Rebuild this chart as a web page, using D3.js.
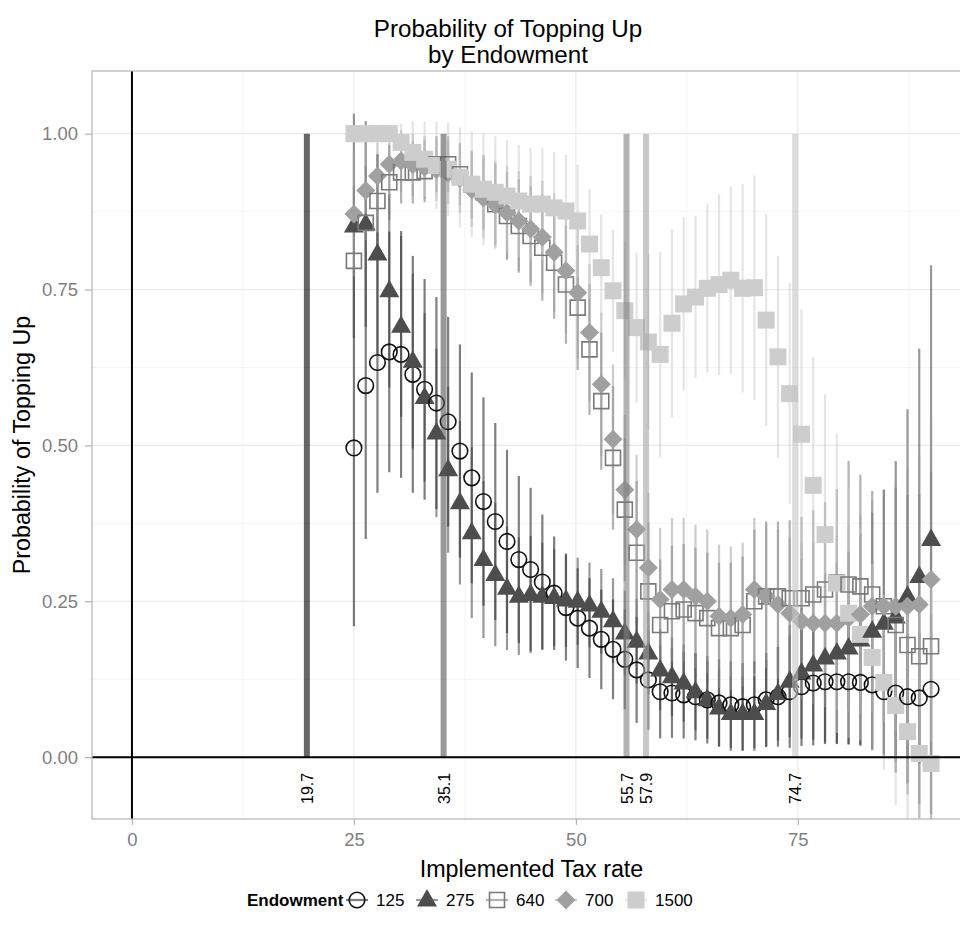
<!DOCTYPE html>
<html><head><meta charset="utf-8">
<script src="https://cdn.jsdelivr.net/npm/d3@7/dist/d3.min.js"></script>
<style>
body{margin:0;background:#fff;}
text{font-family:"Liberation Sans",Arial,Helvetica,sans-serif;}
</style>
</head><body>
<svg id="chart" width="960" height="941"></svg>
<script>
// ---------------- data ----------------
const taxRate = [25.00,26.33,27.65,28.98,30.31,31.63,32.96,34.29,35.61,36.94,38.27,39.59,40.92,42.24,43.57,44.90,46.22,47.55,48.88,50.20,51.53,52.86,54.18,55.51,56.84,58.16,59.49,60.82,62.14,63.47,64.80,66.12,67.45,68.78,70.10,71.43,72.76,74.08,75.41,76.73,78.06,79.39,80.71,82.04,83.37,84.69,86.02,87.35,88.67,90.00];
const endowments = ["125","275","640","700","1500"];

const p125 = [0.496,0.596,0.633,0.650,0.646,0.614,0.590,0.568,0.538,0.491,0.448,0.410,0.378,0.346,0.317,0.301,0.281,0.263,0.240,0.223,0.207,0.189,0.173,0.157,0.140,0.124,0.105,0.103,0.100,0.097,0.092,0.087,0.084,0.081,0.084,0.092,0.097,0.105,0.113,0.119,0.121,0.121,0.121,0.120,0.116,0.105,0.103,0.097,0.095,0.109];
const lo125 = [0.210,0.350,0.424,0.457,0.448,0.424,0.413,0.398,0.370,0.320,0.279,0.243,0.220,0.199,0.183,0.170,0.173,0.172,0.155,0.143,0.127,0.109,0.093,0.077,0.055,0.044,0.030,0.031,0.030,0.027,0.022,0.017,0.014,0.011,0.014,0.017,0.017,0.015,0.018,0.019,0.021,0.021,0.021,0.020,0.012,0.005,0.003,-0.003,-0.010,-0.011];
const hi125 = [0.782,0.842,0.842,0.843,0.844,0.804,0.767,0.738,0.706,0.662,0.617,0.577,0.536,0.493,0.451,0.432,0.389,0.354,0.325,0.303,0.287,0.269,0.253,0.237,0.225,0.204,0.180,0.175,0.170,0.167,0.162,0.157,0.154,0.151,0.154,0.167,0.177,0.195,0.208,0.219,0.221,0.221,0.221,0.220,0.220,0.205,0.203,0.197,0.200,0.229];

const p275 = [0.852,0.855,0.807,0.748,0.691,0.635,0.577,0.520,0.461,0.408,0.360,0.317,0.293,0.271,0.258,0.261,0.258,0.256,0.252,0.250,0.244,0.234,0.219,0.199,0.186,0.167,0.140,0.129,0.119,0.105,0.092,0.079,0.070,0.070,0.070,0.086,0.102,0.122,0.135,0.148,0.159,0.167,0.175,0.188,0.202,0.215,0.225,0.258,0.290,0.349];
const lo275 = [0.672,0.690,0.647,0.593,0.546,0.495,0.442,0.385,0.328,0.277,0.223,0.191,0.178,0.172,0.164,0.167,0.172,0.178,0.177,0.180,0.176,0.166,0.151,0.131,0.118,0.101,0.075,0.066,0.057,0.043,0.030,0.017,0.010,0.010,0.010,0.016,0.027,0.032,0.030,0.028,0.024,0.022,0.020,0.018,0.012,0.001,-0.025,-0.042,-0.075,-0.091];
const hi275 = [1.032,1.020,0.967,0.903,0.836,0.775,0.712,0.655,0.594,0.539,0.497,0.443,0.408,0.370,0.352,0.355,0.344,0.334,0.327,0.320,0.312,0.302,0.287,0.267,0.254,0.233,0.205,0.192,0.181,0.167,0.154,0.141,0.130,0.130,0.130,0.156,0.177,0.212,0.240,0.268,0.294,0.312,0.330,0.358,0.392,0.429,0.475,0.558,0.655,0.789];

const p640 = [0.796,0.857,0.892,0.922,0.938,0.938,0.940,0.951,0.951,0.935,0.918,0.906,0.887,0.868,0.852,0.836,0.817,0.793,0.758,0.721,0.654,0.571,0.480,0.397,0.328,0.266,0.212,0.234,0.237,0.231,0.223,0.207,0.207,0.212,0.250,0.258,0.258,0.255,0.255,0.261,0.269,0.280,0.277,0.274,0.261,0.242,0.212,0.180,0.162,0.178];
const lo640 = [0.676,0.767,0.817,0.862,0.888,0.888,0.890,0.906,0.906,0.885,0.863,0.846,0.822,0.798,0.777,0.756,0.732,0.703,0.663,0.621,0.549,0.461,0.365,0.282,0.213,0.156,0.107,0.129,0.132,0.126,0.118,0.102,0.102,0.102,0.135,0.138,0.138,0.130,0.125,0.126,0.129,0.130,0.079,0.095,0.095,0.055,-0.008,-0.060,-0.098,-0.102];
const hi640 = [0.916,0.947,0.967,0.982,0.988,0.988,0.990,0.996,0.996,0.985,0.973,0.966,0.952,0.938,0.927,0.916,0.902,0.883,0.853,0.821,0.759,0.681,0.595,0.512,0.443,0.376,0.317,0.339,0.342,0.336,0.328,0.312,0.312,0.322,0.365,0.378,0.378,0.380,0.385,0.396,0.409,0.430,0.475,0.453,0.427,0.429,0.432,0.420,0.422,0.458];

const p700 = [0.871,0.909,0.932,0.951,0.956,0.950,0.946,0.942,0.937,0.928,0.910,0.897,0.886,0.873,0.860,0.847,0.834,0.810,0.780,0.745,0.681,0.598,0.510,0.429,0.365,0.304,0.253,0.269,0.269,0.258,0.250,0.226,0.223,0.229,0.269,0.258,0.245,0.231,0.218,0.215,0.215,0.215,0.223,0.229,0.242,0.242,0.242,0.242,0.245,0.285];
const lo700 = [0.771,0.829,0.867,0.896,0.906,0.900,0.896,0.892,0.887,0.873,0.850,0.832,0.816,0.798,0.780,0.762,0.744,0.715,0.680,0.640,0.571,0.483,0.390,0.309,0.245,0.184,0.138,0.154,0.154,0.143,0.135,0.111,0.108,0.114,0.154,0.143,0.125,0.111,0.093,0.085,0.080,0.075,0.073,0.069,0.072,0.057,0.042,0.022,0.005,0.025];
const hi700 = [0.971,0.989,0.997,1.006,1.006,1.000,0.996,0.992,0.987,0.983,0.970,0.962,0.956,0.948,0.940,0.932,0.924,0.905,0.880,0.850,0.791,0.713,0.630,0.549,0.485,0.424,0.368,0.384,0.384,0.373,0.365,0.341,0.338,0.344,0.384,0.373,0.365,0.351,0.343,0.345,0.350,0.355,0.373,0.389,0.412,0.427,0.442,0.462,0.485,0.545];

const p1500 = [1.000,1.000,1.000,1.000,0.986,0.970,0.959,0.949,0.943,0.930,0.919,0.911,0.906,0.900,0.892,0.887,0.887,0.881,0.876,0.860,0.823,0.785,0.748,0.716,0.689,0.666,0.646,0.696,0.727,0.738,0.752,0.758,0.765,0.752,0.753,0.701,0.642,0.583,0.518,0.436,0.357,0.279,0.231,0.197,0.160,0.120,0.083,0.041,0.006,-0.010];
const lo1500 = [1.000,1.000,1.000,1.000,0.956,0.920,0.899,0.879,0.868,0.850,0.834,0.821,0.816,0.810,0.802,0.797,0.797,0.791,0.786,0.770,0.735,0.699,0.650,0.606,0.569,0.526,0.481,0.545,0.588,0.608,0.617,0.613,0.615,0.585,0.573,0.531,0.480,0.406,0.318,0.230,0.132,0.039,0.031,0.027,0.010,-0.020,-0.077,-0.159,-0.244,-0.310];
const hi1500 = [1.000,1.000,1.000,1.000,1.016,1.020,1.019,1.019,1.018,1.010,1.004,1.001,0.996,0.990,0.982,0.977,0.977,0.971,0.966,0.950,0.911,0.871,0.846,0.826,0.809,0.806,0.811,0.847,0.866,0.868,0.887,0.903,0.915,0.919,0.933,0.871,0.804,0.760,0.718,0.642,0.582,0.519,0.431,0.367,0.310,0.260,0.243,0.241,0.256,0.290];

const thresholds = [19.7, 35.1, 55.7, 57.9, 74.7];
const thresholdLabels = ["19.7","35.1","55.7","57.9","74.7"];
const xTicks = [0, 25, 50, 75];
const yTicks = [0, 0.25, 0.5, 0.75, 1];
const yTickLabels = ["0.00","0.25","0.50","0.75","1.00"];

// ---------------- layout ----------------
const svg = d3.select("#chart");
const panel = {left: 92, right: 971, top: 71, bottom: 819};
const x = d3.scaleLinear().domain([-4.5, 94.5]).range([panel.left, panel.right]);
const y = d3.scaleLinear().domain([-0.0991, 1.1005]).range([panel.bottom, panel.top]);

const pointColor = ["#111111", "#4d4d4d", "#7a7a7a", "#a0a0a0", "#cdcdcd"];
const barColor   = ["#000000", "#333333", "#666666", "#999999", "#cccccc"];
const vlineColor = ["#000000", "#555555", "#808080", "#a3a3a3", "#c6c6c6"];

const series = [
  {key:"125",  p:p125,  lo:lo125,  hi:hi125,  shape:"circle"},
  {key:"275",  p:p275,  lo:lo275,  hi:hi275,  shape:"triangle"},
  {key:"640",  p:p640,  lo:lo640,  hi:hi640,  shape:"opensquare"},
  {key:"700",  p:p700,  lo:lo700,  hi:hi700,  shape:"diamond"},
  {key:"1500", p:p1500, lo:lo1500, hi:hi1500, shape:"square"}
];

svg.append("defs").append("clipPath").attr("id","clip")
  .append("rect").attr("x",panel.left).attr("y",panel.top)
  .attr("width",panel.right-panel.left).attr("height",panel.bottom-panel.top);

// grid
const g = svg.append("g");
const minorX = [12.5, 37.5, 62.5, 87.5];
const minorY = [0.125, 0.375, 0.625, 0.875];
g.selectAll(".mx").data(minorX).enter().append("line")
  .attr("x1",d=>x(d)).attr("x2",d=>x(d)).attr("y1",panel.top).attr("y2",panel.bottom)
  .attr("stroke","#f5f5f5").attr("stroke-width",1);
g.selectAll(".my").data(minorY).enter().append("line")
  .attr("y1",d=>y(d)).attr("y2",d=>y(d)).attr("x1",panel.left).attr("x2",panel.right)
  .attr("stroke","#f5f5f5").attr("stroke-width",1);
g.selectAll(".gx").data(xTicks).enter().append("line")
  .attr("x1",d=>x(d)).attr("x2",d=>x(d)).attr("y1",panel.top).attr("y2",panel.bottom)
  .attr("stroke","#ebebeb").attr("stroke-width",1.2);
g.selectAll(".gy").data(yTicks).enter().append("line")
  .attr("y1",d=>y(d)).attr("y2",d=>y(d)).attr("x1",panel.left).attr("x2",panel.right)
  .attr("stroke","#ebebeb").attr("stroke-width",1.2);

const plot = svg.append("g").attr("clip-path","url(#clip)");

// error bars
series.forEach((s,si)=>{
  plot.append("g").selectAll("line").data(taxRate).enter().append("line")
    .attr("x1",d=>x(d)).attr("x2",d=>x(d))
    .attr("y1",(d,i)=>y(s.lo[i])).attr("y2",(d,i)=>y(s.hi[i]))
    .attr("stroke",barColor[si]).attr("stroke-opacity",0.5).attr("stroke-width",2.2);
});

// symbol paths
function shapePath(shape){
  switch(shape){
    case "circle": return d3.symbol(d3.symbolCircle, Math.PI*7.8*7.8)();
    case "triangle": return "M0,-11L10,6.5L-10,6.5Z";
    case "opensquare": return "M-7.5,-7.5H7.5V7.5H-7.5Z";
    case "diamond": return "M0,-9.5L9.5,0L0,9.5L-9.5,0Z";
    case "square": return "M-8.5,-8.5H8.5V8.5H-8.5Z";
  }
}
function styleShape(sel, shape, color){
  if(shape==="circle" || shape==="opensquare"){
    sel.attr("fill","none").attr("stroke",color).attr("stroke-width",1.6);
  } else {
    sel.attr("fill",color).attr("stroke","none");
  }
}

// points: interleaved by tax rate so groups overlap like the original
taxRate.forEach((t,i)=>{
  series.forEach((s,si)=>{
    const p = plot.append("path").attr("d",shapePath(s.shape))
      .attr("transform",`translate(${x(t)},${y(s.p[i])})`);
    styleShape(p, s.shape, pointColor[si]);
  });
});

// threshold vertical segments
plot.selectAll(".thr").data(thresholds).enter().append("line")
  .attr("x1",d=>x(d)).attr("x2",d=>x(d)).attr("y1",y(0)).attr("y2",y(1))
  .attr("stroke",(d,i)=>vlineColor[i]).attr("stroke-opacity",0.6).attr("stroke-width",6);

// zero lines
plot.append("line").attr("x1",x(0)).attr("x2",x(0)).attr("y1",panel.top).attr("y2",panel.bottom)
  .attr("stroke","#000").attr("stroke-width",2);
plot.append("line").attr("y1",y(0)).attr("y2",y(0)).attr("x1",panel.left).attr("x2",panel.right)
  .attr("stroke","#000").attr("stroke-width",2);

// threshold labels
plot.selectAll(".thl").data(thresholds).enter().append("text")
  .attr("transform",d=>`translate(${x(d)+6},${y(-0.05)}) rotate(-90)`)
  .attr("text-anchor","middle").attr("font-size",16).attr("fill","#000")
  .text((d,i)=>thresholdLabels[i]);

// panel border
svg.append("rect").attr("x",panel.left).attr("y",panel.top)
  .attr("width",panel.right-panel.left).attr("height",panel.bottom-panel.top)
  .attr("fill","none").attr("stroke","#b3b3b3").attr("stroke-width",1.2);

// axes
const xAxis = d3.axisBottom(x).tickValues(xTicks).tickSize(6).tickPadding(8).tickFormat(d3.format("d"));
const yAxis = d3.axisLeft(y).tickValues(yTicks).tickSize(7).tickPadding(7).tickFormat((d,i)=>yTickLabels[i]);
const gx = svg.append("g").attr("transform",`translate(0,${panel.bottom})`).call(xAxis);
const gy = svg.append("g").attr("transform",`translate(${panel.left},0)`).call(yAxis);
[gx,gy].forEach(a=>{
  a.select(".domain").remove();
  a.selectAll(".tick line").attr("stroke","#b3b3b3").attr("stroke-width",1.2);
  a.selectAll(".tick text").attr("fill","#7f7f7f").attr("font-size",18.5)
    .style("font-family",'"Liberation Sans",Arial,sans-serif');
});

// titles
svg.append("text").attr("x",508).attr("y",37).attr("text-anchor","middle")
  .attr("font-size",24.2).attr("fill","#000").text("Probability of Topping Up");
svg.append("text").attr("x",508).attr("y",63).attr("text-anchor","middle")
  .attr("font-size",24.2).attr("fill","#000").text("by Endowment");
svg.append("text").attr("x",(panel.left+panel.right)/2).attr("y",877).attr("text-anchor","middle")
  .attr("font-size",23.3).attr("fill","#000").text("Implemented Tax rate");
svg.append("text").attr("transform",`translate(30,${(panel.top+panel.bottom)/2}) rotate(-90)`)
  .attr("text-anchor","middle").attr("font-size",23.3).attr("fill","#000").text("Probability of Topping Up");

// legend
const leg = svg.append("g").attr("transform","translate(0,900)");
leg.append("text").attr("x",247).attr("y",6).attr("font-size",17).attr("font-weight","bold").text("Endowment");
const legX = [357, 427, 497, 566, 636];
series.forEach((s,si)=>{
  const cx = legX[si];
  leg.append("line").attr("x1",cx-11).attr("x2",cx+11).attr("y1",0).attr("y2",0)
    .attr("stroke",barColor[si]).attr("stroke-opacity",0.5).attr("stroke-width",2.2);
  const p = leg.append("path").attr("d",shapePath(s.shape)).attr("transform",`translate(${cx},0)`);
  styleShape(p, s.shape, pointColor[si]);
  leg.append("text").attr("x",cx+19).attr("y",6).attr("font-size",17).text(s.key);
});
</script>
</body></html>
